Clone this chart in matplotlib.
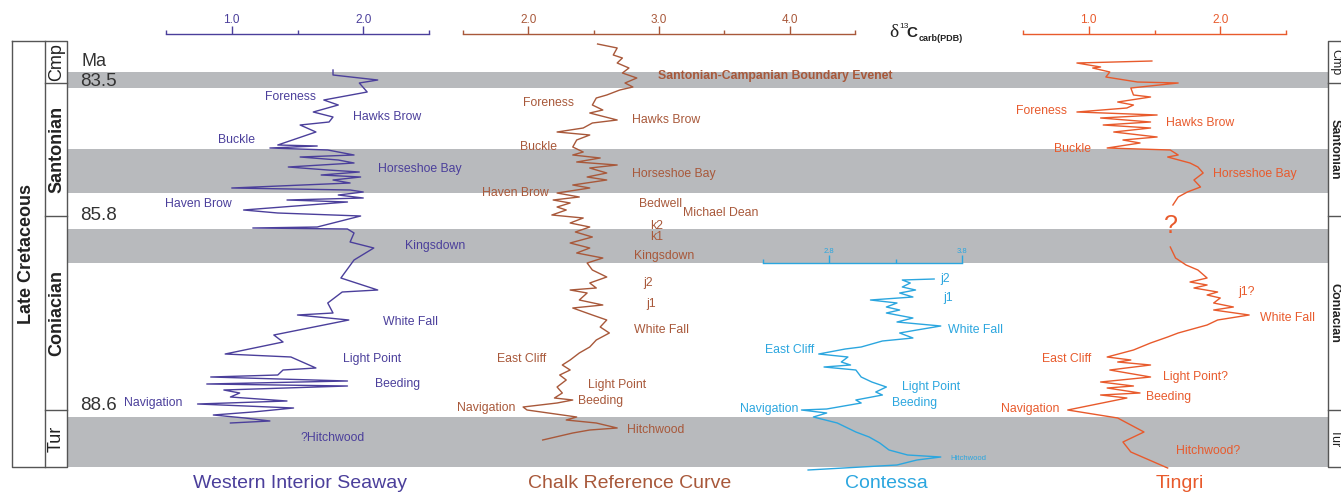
import matplotlib.pyplot as plt

plt.rcParams['font.family'] = ['Liberation Sans', 'DejaVu Sans']

W, H = 1341, 493

# stratigraphic levels (relative, top of section = small numbers)
band_top = [72, 149, 229, 417]
band_base = [88, 193, 263, 467]
stage_names = ['Cmp', 'Santonian', 'Coniacian', 'Tur']
stage_top = [41, 83, 216, 410]
stage_base = [83, 216, 410, 467]
age_labels = ['83.5', '85.8', '88.6']
age_levels = [81, 215, 405]

# Western Interior Seaway
wis_lvl = [70, 75, 80, 83, 92, 100, 105, 112, 117, 122, 125, 132, 145, 146, 148, 150,
           155, 157, 160, 163, 167, 170, 172, 175, 177, 180, 183, 188, 190, 192, 195,
           198, 200, 202, 210, 213, 216, 227, 228, 229, 233, 242, 248, 260, 278, 290,
           292, 303, 313, 315, 320, 335, 342, 354, 357, 368, 370, 375, 377, 381, 384,
           386, 390, 393, 397, 401, 404, 408, 412, 415, 418, 421, 423]
wis_d13c = [1.77, 1.77, 2.11, 1.97, 2.03, 1.70, 1.81, 1.62, 1.77, 1.74, 1.52, 1.64, 1.35,
            1.65, 1.29, 1.73, 1.93, 1.52, 1.81, 1.93, 1.43, 1.73, 1.97, 1.68, 1.98, 1.77,
            1.90, 1.00, 1.90, 2.00, 1.81, 2.00, 1.42, 1.88, 1.09, 1.35, 1.98, 1.65, 1.16,
            1.88, 1.93, 1.90, 2.08, 1.93, 1.83, 2.11, 1.84, 1.73, 1.77, 1.50, 1.89, 1.32,
            1.39, 0.95, 1.45, 1.64, 1.39, 1.35, 0.84, 1.88, 0.81, 1.88, 0.94, 1.06, 0.99,
            1.42, 0.74, 1.47, 1.16, 0.86, 1.10, 1.29, 0.99]

# Chalk reference curve
chalk_lvl = [44, 48, 55, 58, 63, 68, 73, 78, 83, 87, 90, 95, 98, 105, 110, 113, 120, 123,
             128, 132, 135, 140, 147, 152, 155, 158, 162, 165, 168, 173, 177, 180, 185,
             188, 193, 197, 200, 203, 207, 210, 215, 218, 223, 227, 232, 237, 243, 248,
             253, 258, 263, 270, 277, 283, 288, 290, 293, 300, 305, 308, 315, 320, 327,
             333, 340, 347, 353, 360, 365, 370, 375, 380, 387, 393, 398, 400, 403, 407,
             410, 417, 420, 423, 428, 430, 433, 440]
chalk_d13c = [2.53, 2.68, 2.65, 2.72, 2.68, 2.77, 2.72, 2.83, 2.74, 2.80, 2.70, 2.60, 2.52,
              2.49, 2.57, 2.47, 2.68, 2.49, 2.42, 2.22, 2.47, 2.37, 2.34, 2.42, 2.34, 2.55,
              2.37, 2.68, 2.47, 2.60, 2.45, 2.60, 2.34, 2.47, 2.22, 2.39, 2.19, 2.32, 2.22,
              2.29, 2.18, 2.42, 2.32, 2.47, 2.36, 2.49, 2.32, 2.47, 2.37, 2.57, 2.45, 2.49,
              2.60, 2.47, 2.52, 2.32, 2.45, 2.39, 2.57, 2.34, 2.49, 2.60, 2.55, 2.62, 2.52,
              2.47, 2.39, 2.32, 2.26, 2.32, 2.24, 2.29, 2.22, 2.26, 2.20, 2.34, 2.22, 1.96,
              1.99, 2.37, 2.29, 2.52, 2.68, 2.47, 2.34, 2.11]

# Contessa
cont_lvl = [279, 280, 283, 287, 290, 293, 297, 300, 303, 307, 310, 313, 318, 322, 326, 330,
            333, 338, 341, 347, 349, 354, 357, 362, 365, 367, 370, 377, 382, 387, 392, 395,
            400, 403, 409, 410, 413, 417, 423, 432, 437, 443, 450, 455, 457, 460, 465, 470]
cont_d13c = [3.59, 3.35, 3.41, 3.35, 3.45, 3.33, 3.43, 3.11, 3.31, 3.23, 3.33, 3.23, 3.43,
             3.31, 3.64, 3.46, 3.33, 3.43, 3.20, 3.04, 2.92, 2.72, 2.94, 2.89, 2.96, 2.76,
             3.00, 3.04, 3.12, 3.23, 3.15, 3.20, 3.00, 3.04, 2.78, 2.59, 2.78, 2.68, 2.86,
             3.00, 3.10, 3.18, 3.25, 3.39, 3.64, 3.46, 3.31, 2.64]

# Tingri (gap between the two parts)
ting_lvl_a = [61, 63, 67, 68, 72, 77, 82, 83, 88, 95, 97, 102, 105, 108, 112, 115, 118, 122,
              125, 128, 132, 137, 140, 143, 148, 150, 155, 157, 163, 167, 173, 180, 187,
              192, 197, 205]
ting_d13c_a = [1.48, 0.91, 1.09, 1.03, 1.16, 1.13, 1.37, 1.68, 1.32, 1.34, 1.47, 1.22, 1.34,
               1.29, 0.91, 1.52, 1.09, 1.47, 1.11, 1.47, 1.19, 1.52, 1.26, 1.39, 1.14, 1.62,
               1.68, 1.60, 1.77, 1.83, 1.87, 1.80, 1.85, 1.75, 1.68, 1.64]
ting_lvl_b = [247, 258, 265, 270, 278, 282, 285, 288, 292, 295, 298, 303, 307, 310, 315, 320,
              325, 333, 337, 343, 350, 357, 360, 362, 365, 370, 377, 382, 386, 388, 393, 395,
              398, 410, 418, 432, 442, 452, 468]
ting_d13c_b = [1.62, 1.66, 1.74, 1.83, 1.90, 1.77, 1.90, 1.80, 1.98, 1.90, 2.00, 1.95, 2.10,
               1.95, 2.22, 1.98, 1.90, 1.68, 1.60, 1.47, 1.34, 1.14, 1.32, 1.22, 1.47, 1.16,
               1.47, 1.09, 1.34, 1.14, 1.39, 1.09, 1.29, 0.84, 1.22, 1.42, 1.26, 1.32, 1.60]

WIS = '#4b3f9b'
CHALK = '#a8583a'
CONT = '#2ba6df'
TING = '#e85a2c'
GRAY = '#b8babd'
LINE = '#555555'
DARK = '#222222'
FS = 8.8

fig = plt.figure(figsize=(W / 100, H / 100), dpi=100)
bg = fig.add_axes([0, 0, 1, 1])
bg.set_xlim(0, W)
bg.set_ylim(H, 0)
bg.axis('off')

for t, b in zip(band_top, band_base):
    bg.axhspan(t, b, xmin=67 / W, xmax=1328 / W, color=GRAY, lw=0)

# stratigraphic columns
bg.plot([12, 67, 67, 12, 12], [41, 41, 467, 467, 41], color=LINE, lw=1)
bg.plot([45, 45], [41, 467], color=LINE, lw=1)
for lv in stage_base[:-1]:
    bg.plot([45, 67], [lv, lv], color=LINE, lw=1)
    bg.plot([1328, W], [lv, lv], color=LINE, lw=1)
bg.plot([W, 1328, 1328, W], [41, 41, 467, 467], color=LINE, lw=1)
bg.text(27, 254, 'Late Cretaceous', rotation=90, ha='center', va='center',
        fontsize=13, fontweight='bold', color=DARK)
for name, t, b in zip(stage_names, stage_top, stage_base):
    bold = 'bold' if name in ('Santonian', 'Coniacian') else 'normal'
    bg.text(56.5, (t + b) / 2, name, rotation=90, ha='center', va='center',
            fontsize=13, fontweight=bold, color=DARK)
    bg.text(1335, (t + b) / 2, name, rotation=270, ha='center', va='center',
            fontsize=9, fontweight=bold, color=DARK)

bg.text(82, 62, 'Ma', ha='left', va='center', fontsize=13, color='#333333')
for lab, lv in zip(age_labels, age_levels):
    bg.text(80, lv, lab, ha='left', va='center', fontsize=13.5, color='#333333')


def curve_axes(x0, x1, top, xlim, major, minor, color, size=8.5):
    ax = fig.add_axes([x0 / W, 1 - 467 / H, (x1 - x0) / W, (467 - top) / H])
    ax.set_xlim(*xlim)
    ax.set_ylim(467, top)
    ax.patch.set_alpha(0)
    for s in ['left', 'right', 'bottom']:
        ax.spines[s].set_visible(False)
    ax.spines['top'].set_color(color)
    ax.spines['top'].set_linewidth(1)
    ax.xaxis.tick_top()
    ax.set_xticks(major)
    ax.set_xticks(minor, minor=True)
    ax.xaxis.set_major_formatter('{x:.1f}')
    ax.tick_params(axis='x', which='major', length=6, width=1, color=color,
                   labelcolor=color, labelsize=size, pad=0)
    ax.tick_params(axis='x', which='minor', length=3, width=1, color=color)
    ax.set_yticks([])
    return ax


ax1 = curve_axes(166, 429, 34, (0.5, 2.5), [1.0, 2.0], [0.5, 1.5, 2.5], WIS)
ax1.plot(wis_d13c, wis_lvl, color=WIS, lw=1, clip_on=False)

ax2 = curve_axes(463, 855, 34, (1.5, 4.5), [2.0, 3.0, 4.0], [1.5, 2.5, 3.5, 4.5], CHALK)
ax2.plot(chalk_d13c, chalk_lvl, color=CHALK, lw=1, clip_on=False)

ax3 = curve_axes(763, 962, 263, (2.3, 3.8), [2.8, 3.8], [2.3, 3.3], CONT, size=5.5)
ax3.plot(cont_d13c, cont_lvl, color=CONT, lw=1, clip_on=False)

ax4 = curve_axes(1023, 1286, 34, (0.5, 2.5), [1.0, 2.0], [0.5, 1.5, 2.5], TING)
ax4.plot(ting_d13c_a, ting_lvl_a, color=TING, lw=1, clip_on=False)
ax4.plot(ting_d13c_b, ting_lvl_b, color=TING, lw=1, clip_on=False)

# delta label
bg.text(889, 37, 'δ', family='Liberation Serif', fontsize=14, color=DARK, va='baseline')
bg.text(899, 28, '13', fontsize=6, color=DARK, va='baseline')
bg.text(906, 37, 'C', fontsize=11, fontweight='bold', color=DARK, va='baseline')
bg.text(919, 41, 'carb(PDB)', fontsize=6.5, fontweight='bold', color=DARK, va='baseline')

# event labels (x, level)
wis_marks = [('Foreness', 265, 97), ('Hawks Brow', 353, 117), ('Buckle', 218, 140),
             ('Horseshoe Bay', 378, 169), ('Haven Brow', 165, 204), ('Kingsdown', 405, 246),
             ('White Fall', 383, 322), ('Light Point', 343, 359), ('Beeding', 375, 384),
             ('Navigation', 124, 403), ('?Hitchwood', 300, 438)]
chalk_marks = [('Foreness', 523, 103), ('Hawks Brow', 632, 120), ('Buckle', 520, 147),
               ('Horseshoe Bay', 632, 174), ('Haven Brow', 482, 193), ('Bedwell', 639, 204),
               ('Michael Dean', 683, 213), ('k2', 650, 226), ('k1', 650, 237),
               ('Kingsdown', 634, 256), ('j2', 643, 283), ('j1', 646, 304),
               ('White Fall', 634, 330), ('East Cliff', 497, 359), ('Light Point', 588, 385),
               ('Beeding', 578, 401), ('Navigation', 457, 408), ('Hitchwood', 627, 430)]
cont_marks = [('j2', 940, 279), ('j1', 943, 298), ('White Fall', 948, 330),
              ('East Cliff', 765, 350), ('Light Point', 902, 387), ('Beeding', 892, 403),
              ('Navigation', 740, 409)]
ting_marks = [('Foreness', 1016, 111), ('Hawks Brow', 1166, 123), ('Buckle', 1054, 149),
              ('Horseshoe Bay', 1213, 174), ('j1?', 1238, 292), ('White Fall', 1260, 318),
              ('East Cliff', 1042, 359), ('Light Point?', 1163, 377), ('Beeding', 1146, 397),
              ('Navigation', 1001, 409), ('Hitchwood?', 1176, 451)]

for marks, col in [(wis_marks, WIS), (chalk_marks, CHALK), (cont_marks, CONT), (ting_marks, TING)]:
    for name, x, lv in marks:
        bg.text(x, lv, name, ha='left', va='center', fontsize=FS, color=col)

bg.text(658, 76, 'Santonian-Campanian Boundary Evenet', ha='left', va='center',
        fontsize=FS, fontweight='bold', color=CHALK)
bg.text(950, 458, 'Hitchwood', ha='left', va='center', fontsize=5.5, color=CONT)
bg.text(1171, 226, '?', ha='center', va='center', fontsize=18, color=TING)

# curve titles
for name, x, col in [('Western Interior Seaway', 300, WIS), ('Chalk Reference Curve', 630, CHALK),
                     ('Contessa', 886, CONT), ('Tingri', 1180, TING)]:
    bg.text(x, 483, name, ha='center', va='center', fontsize=14, color=col)

fig.savefig('out.png', dpi=100)
